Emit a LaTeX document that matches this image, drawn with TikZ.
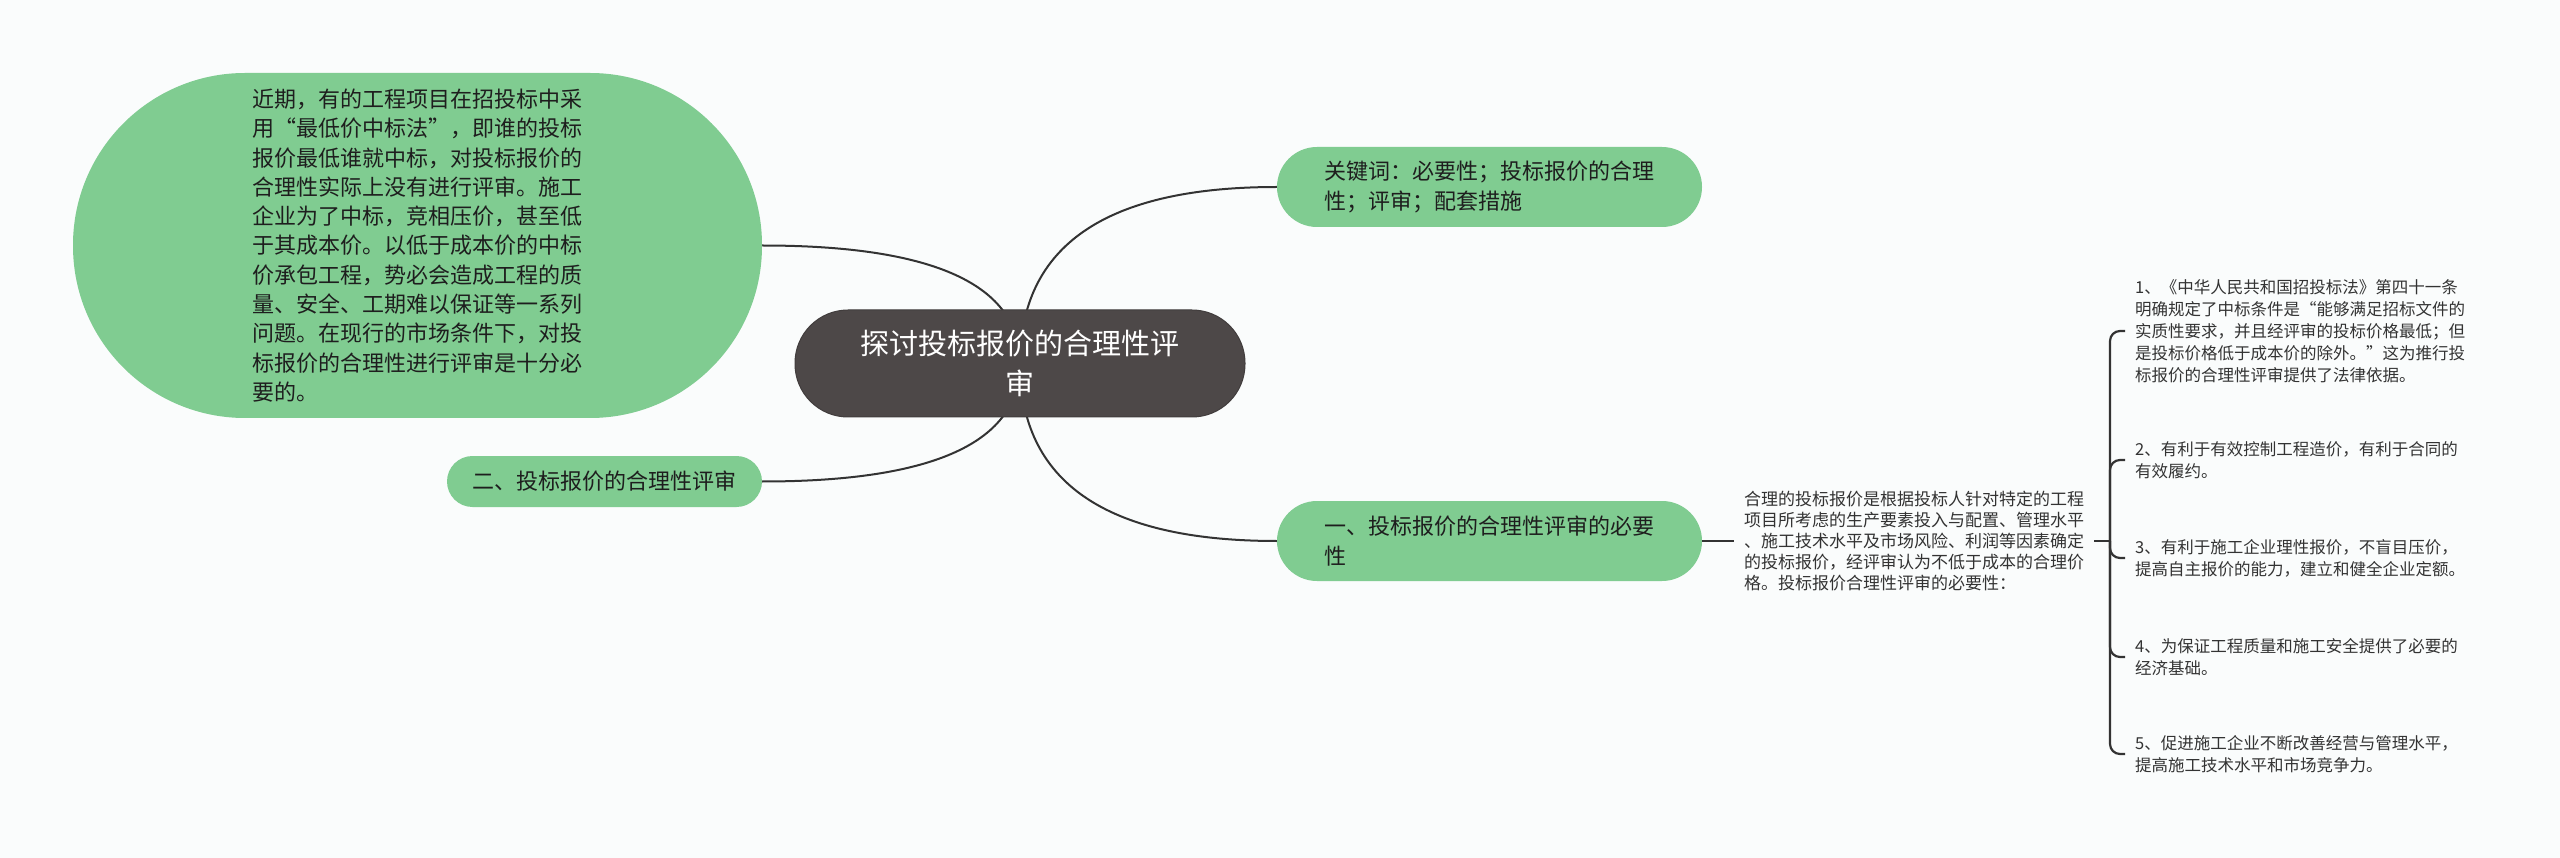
\documentclass[tikz,border=0pt]{standalone}
\usepackage{fontspec}
\setmainfont{Noto Sans CJK SC}
\usetikzlibrary{calc,backgrounds}
\definecolor{bgc}{RGB}{250,252,252}
\definecolor{gfill}{RGB}{128,204,145}
\definecolor{rootc}{RGB}{77,72,72}
\definecolor{linec}{RGB}{51,51,51}
\definecolor{txt}{RGB}{30,30,30}
\definecolor{smtxt}{RGB}{51,51,51}
\begin{document}
\begin{tikzpicture}[x=1pt,y=-1pt,
  rootnode/.style={fill=rootc, draw=rootc!85!black, line width=1pt, rounded corners=53,
    minimum height=107, minimum width=450, align=center, inner xsep=0, inner ysep=0,
    text=white, font=\fontsize{29}{40}\selectfont},
  gnode/.style={fill=gfill, text=txt, inner ysep=0, inner xsep=0},
  bignode/.style={gnode, rounded corners=40, minimum height=80, minimum width=425,
    align=left, font=\fontsize{22}{30}\selectfont},
  itemnode/.style={anchor=west, font=\fontsize{16.5}{22}\selectfont, text=smtxt,
    align=left, inner xsep=10, inner ysep=0},
  conn/.style={draw=linec, line width=2pt},
  brk/.style={draw=linec, line width=2.2pt, rounded corners=10}]
\useasboundingbox (0,0) rectangle (2560,858);

\node[rootnode] (root) at (1020,363.5) {探讨投标报价的合理性评\\审};

\node[gnode, rounded corners=172, minimum width=689, minimum height=345,
  align=left, font=\fontsize{22}{29.3}\selectfont] (intro) at (417.5,245.5)
  {近期，有的工程项目在招投标中采\\
   用“最低价中标法”，即谁的投标\\
   报价最低谁就中标，对投标报价的\\
   合理性实际上没有进行评审。施工\\
   企业为了中标，竞相压价，甚至低\\
   于其成本价。以低于成本价的中标\\
   价承包工程，势必会造成工程的质\\
   量、安全、工期难以保证等一系列\\
   问题。在现行的市场条件下，对投\\
   标报价的合理性进行评审是十分必\\
   要的。};

\node[bignode] (kw) at (1489.5,187) {关键词：必要性；投标报价的合理\\性；评审；配套措施};
\node[bignode] (one) at (1489.5,541) {一、投标报价的合理性评审的必要\\性};
\node[gnode, rounded corners=25.5, minimum width=315, minimum height=51,
  font=\fontsize{22}{26}\selectfont] (two) at (604.5,481.5) {二、投标报价的合理性评审};

\node[font=\fontsize{17}{21.2}\selectfont, text=smtxt, align=left, inner xsep=10, inner ysep=0]
  (para) at (1914,541)
  {合理的投标报价是根据投标人针对特定的工程\\
   项目所考虑的生产要素投入与配置、管理水平\\
   、施工技术水平及市场风险、利润等因素确定\\
   的投标报价，经评审认为不低于成本的合理价\\
   格。投标报价合理性评审的必要性：};

\coordinate (bx) at (2110,541);

\node[itemnode] (i1) at (2125,331)
  {1、《中华人民共和国招投标法》第四十一条\\
   明确规定了中标条件是“能够满足招标文件的\\
   实质性要求，并且经评审的投标价格最低；但\\
   是投标价格低于成本价的除外。”这为推行投\\
   标报价的合理性评审提供了法律依据。};
\node[itemnode] (i2) at (2125,460) {2、有利于有效控制工程造价，有利于合同的\\有效履约。};
\node[itemnode] (i3) at (2125,558) {3、有利于施工企业理性报价，不盲目压价，\\提高自主报价的能力，建立和健全企业定额。};
\node[itemnode] (i4) at (2125,657) {4、为保证工程质量和施工安全提供了必要的\\经济基础。};
\node[itemnode] (i5) at (2125,754) {5、促进施工企业不断改善经营与管理水平，\\提高施工技术水平和市场竞争力。};

\coordinate (ckw) at (root.center |- kw.west);
\coordinate (cin) at (root.center |- intro.east);
\coordinate (ctwo) at (root.center |- two.east);
\coordinate (cone) at (root.center |- one.west);

\begin{scope}[on background layer]
\fill[bgc] (0,0) rectangle (2560,858);
\draw[conn] (root.center) .. controls ($(root.center)!0.667!(ckw)$) and ($(kw.west)!0.667!(ckw)$) .. (kw.west);
\draw[conn] (root.center) .. controls ($(root.center)!0.667!(cin)$) and ($(intro.east)!0.667!(cin)$) .. (intro.east);
\draw[conn] (root.center) .. controls ($(root.center)!0.667!(ctwo)$) and ($(two.east)!0.667!(ctwo)$) .. (two.east);
\draw[conn] (root.center) .. controls ($(root.center)!0.667!(cone)$) and ($(one.west)!0.667!(cone)$) .. (one.west);
\end{scope}

\draw[conn] (one.east) -- (para.west);
\draw[conn] (para.east) -- (bx);
\draw[brk] (bx) |- (i1.west);
\draw[brk] (bx) |- (i2.west);
\draw[brk] (bx) |- (i3.west);
\draw[brk] (bx) |- (i4.west);
\draw[brk] (bx) |- (i5.west);
\end{tikzpicture}
\end{document}
